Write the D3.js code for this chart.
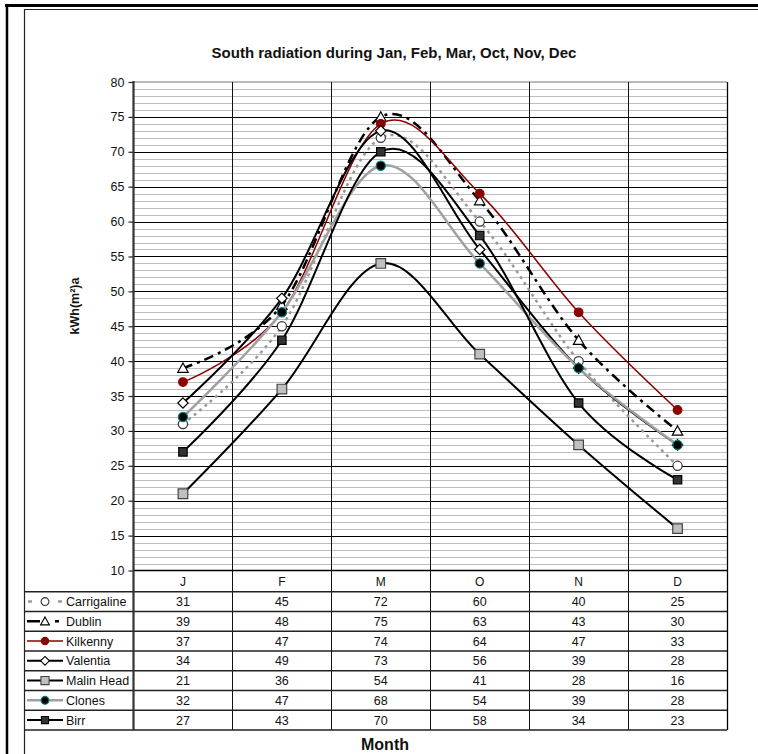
<!DOCTYPE html>
<html>
<head>
<meta charset="utf-8">
<script src="https://cdn.jsdelivr.net/npm/d3@7"></script>
<style>
  html, body { margin: 0; padding: 0; background: #fff; }
  svg { display: block; }
  text { font-family: "Liberation Sans", Arial, sans-serif; fill: #111; }
</style>
</head>
<body>
<svg id="chart" width="758" height="754"></svg>
<script>
// Monthly south-facing radiation, kWh(m²)a, per station
const months = ["J", "F", "M", "O", "N", "D"];
const carrigaline = [31, 45, 72, 60, 40, 25];
const dublin      = [39, 48, 75, 63, 43, 30];
const kilkenny    = [37, 47, 74, 64, 47, 33];
const valentia    = [34, 49, 73, 56, 39, 28];
const malinHead   = [21, 36, 54, 41, 28, 16];
const clones      = [32, 47, 68, 54, 39, 28];
const birr        = [27, 43, 70, 58, 34, 23];
const yTicks = [10, 15, 20, 25, 30, 35, 40, 45, 50, 55, 60, 65, 70, 75, 80];

const series = [
  { name: "Carrigaline", values: carrigaline, stroke: "#999", width: 2.5, dash: "3,4",
    keyDash: "4,11", marker: "circle", mFill: "#fff", mStroke: "#333", mSize: 4.6 },
  { name: "Dublin", values: dublin, stroke: "#000", width: 2.5, dash: "10,5,3,5",
    keyDash: "13,15,4,30", marker: "triangle", mFill: "#fff", mStroke: "#000", mSize: 5.2 },
  { name: "Kilkenny", values: kilkenny, stroke: "#8b0000", width: 1.5, dash: null,
    keyDash: null, marker: "circle", mFill: "#8b0000", mStroke: "#8b0000", mSize: 4.3 },
  { name: "Valentia", values: valentia, stroke: "#000", width: 2, dash: null,
    keyDash: null, marker: "diamond", mFill: "#fff", mStroke: "#000", mSize: 5.2 },
  { name: "Malin Head", values: malinHead, stroke: "#000", width: 2, dash: null,
    keyDash: null, marker: "square", mFill: "#c0c0c0", mStroke: "#444", mSize: 4.8 },
  { name: "Clones", values: clones, stroke: "#a0a0a0", width: 2.5, dash: null,
    keyDash: null, marker: "circle", mFill: "#000", mStroke: "#008080", mSize: 4.6 },
  { name: "Birr", values: birr, stroke: "#000", width: 2, dash: null,
    keyDash: null, marker: "square", mFill: "#333", mStroke: "#000", mSize: 4.2 }
];

const svg = d3.select("#chart");

// Plot geometry
const plot = { left: 133.5, right: 727, top: 82, bottom: 570.5 };
const x = d3.scaleBand().domain(months).range([plot.left, plot.right]);
const y = d3.scaleLinear().domain([10, 80]).range([plot.bottom, plot.top]);
const cx = m => x(m) + x.bandwidth() / 2;

// Outer frames
svg.append("line").attr("x1", 5).attr("x2", 758).attr("y1", 5.5).attr("y2", 5.5)
  .attr("stroke", "#000").attr("stroke-width", 3);
svg.append("line").attr("x1", 7).attr("x2", 7).attr("y1", 4).attr("y2", 754)
  .attr("stroke", "#000").attr("stroke-width", 2.5);
svg.append("path").attr("d", "M24.5,754 V9.5 H758")
  .attr("fill", "none").attr("stroke", "#222").attr("stroke-width", 1.2);

// Title
svg.append("text").attr("x", 394).attr("y", 58).attr("text-anchor", "middle")
  .attr("font-size", 15).attr("font-weight", "bold")
  .text("South radiation during Jan, Feb, Mar, Oct, Nov, Dec");

// Horizontal gridlines: minor every unit, major every five
const grid = svg.append("g");
grid.selectAll("line.minor").data(d3.range(11, 80).filter(v => v % 5 !== 0)).join("line")
  .attr("x1", plot.left).attr("x2", plot.right)
  .attr("y1", d => Math.round(y(d)) + 0.5).attr("y2", d => Math.round(y(d)) + 0.5)
  .attr("stroke", "#bdbdbd").attr("stroke-width", 1);
grid.selectAll("line.major").data(yTicks.filter(v => v > 10 && v < 80)).join("line")
  .attr("x1", plot.left).attr("x2", plot.right)
  .attr("y1", d => Math.round(y(d)) + 0.5).attr("y2", d => Math.round(y(d)) + 0.5)
  .attr("stroke", "#000").attr("stroke-width", 1);
grid.append("line").attr("x1", plot.left).attr("x2", plot.right)
  .attr("y1", y(80)).attr("y2", y(80)).attr("stroke", "#777").attr("stroke-width", 1.2);

// Vertical separators between months (through plot and table)
const tableTop = plot.bottom, headerBottom = 591.7, rowH = 19.75;
const tableBottom = headerBottom + rowH * series.length;
const seps = months.slice(1).map(m => x(m)).concat([plot.right]);
svg.append("g").selectAll("line").data(seps).join("line")
  .attr("x1", d => Math.round(d) + 0.5).attr("x2", d => Math.round(d) + 0.5)
  .attr("y1", plot.top).attr("y2", tableBottom)
  .attr("stroke", (d, i) => i === seps.length - 1 ? "#000" : "#111")
  .attr("stroke-width", (d, i) => i === seps.length - 1 ? 1.3 : 1);

// Data table
const table = svg.append("g");
table.append("line").attr("x1", plot.left).attr("x2", plot.right)
  .attr("y1", tableTop).attr("y2", tableTop).attr("stroke", "#000").attr("stroke-width", 1.3);
table.selectAll("line.row").data(d3.range(series.length + 1)).join("line")
  .attr("x1", 24.5).attr("x2", plot.right)
  .attr("y1", i => headerBottom + i * rowH).attr("y2", i => headerBottom + i * rowH)
  .attr("stroke", "#222").attr("stroke-width", 1.4);
table.selectAll("text.month").data(months).join("text")
  .attr("x", cx).attr("y", 586).attr("text-anchor", "middle").attr("font-size", 12)
  .text(d => d);

// Y axis
const axis = d3.axisLeft(y).tickValues(yTicks).tickSize(5).tickPadding(4);
const gAxis = svg.append("g").attr("transform", `translate(${plot.left},0)`).call(axis);
gAxis.select(".domain").remove();
gAxis.selectAll(".tick line").attr("stroke", "#222").attr("stroke-width", 1.2);
gAxis.selectAll(".tick text").attr("font-size", 12.5).attr("fill", "#222")
  .attr("font-family", "'Liberation Sans', Arial, sans-serif");
svg.append("line").attr("x1", plot.left).attr("x2", plot.left)
  .attr("y1", plot.top - 1).attr("y2", tableBottom)
  .attr("stroke", "#333").attr("stroke-width", 2.2);

svg.append("text").attr("transform", "translate(79,306) rotate(-90)")
  .attr("text-anchor", "middle").attr("font-size", 12.5).attr("font-weight", "bold")
  .text("kWh(m²)a");

svg.append("text").attr("x", 385).attr("y", 750).attr("text-anchor", "middle")
  .attr("font-size", 16).attr("font-weight", "bold").text("Month");

// Marker shapes
function markerPath(type, s) {
  if (type === "circle") return d3.symbol(d3.symbolCircle, Math.PI * s * s)();
  if (type === "square") return `M${-s},${-s}H${s}V${s}H${-s}Z`;
  if (type === "diamond") return `M0,${-s}L${s},0L0,${s}L${-s},0Z`;
  if (type === "triangle") return `M0,${-s}L${s},${s * 0.8}L${-s},${s * 0.8}Z`;
}

// Series lines (smoothed) and markers
const line = d3.line().x(d => cx(d.m)).y(d => y(d.v)).curve(d3.curveCardinal.tension(0));
const gSeries = svg.append("g");
series.forEach(s => {
  const pts = months.map((m, i) => ({ m, v: s.values[i] }));
  gSeries.append("path").datum(pts).attr("d", line)
    .attr("fill", "none").attr("stroke", s.stroke).attr("stroke-width", s.width)
    .attr("stroke-dasharray", s.dash).attr("stroke-linejoin", "round");
  gSeries.append("g").selectAll("path").data(pts).join("path")
    .attr("transform", d => `translate(${cx(d.m)},${y(d.v)})`)
    .attr("d", markerPath(s.marker, s.mSize))
    .attr("fill", s.mFill).attr("stroke", s.mStroke).attr("stroke-width", 1.2);
});

// Table rows: legend key + values
series.forEach((s, i) => {
  const rowMid = headerBottom + i * rowH + rowH / 2;
  const g = table.append("g");
  g.append("line").attr("x1", 27).attr("x2", 63).attr("y1", rowMid).attr("y2", rowMid)
    .attr("stroke", s.stroke).attr("stroke-width", s.width)
    .attr("stroke-dasharray", s.keyDash)
    .attr("stroke-dashoffset", s.name === "Carrigaline" ? -1 : 0);
  g.append("path").attr("transform", `translate(45,${rowMid})`)
    .attr("d", markerPath(s.marker, s.mSize * 0.85))
    .attr("fill", s.mFill).attr("stroke", s.mStroke).attr("stroke-width", 1.1);
  g.append("text").attr("x", 66).attr("y", rowMid + 4.5).attr("font-size", 12.5).text(s.name);
  g.selectAll("text.val").data(s.values).join("text")
    .attr("x", (d, j) => cx(months[j])).attr("y", rowMid + 4.5)
    .attr("text-anchor", "middle").attr("font-size", 12.5).text(d => d);
});
</script>
</body>
</html>
